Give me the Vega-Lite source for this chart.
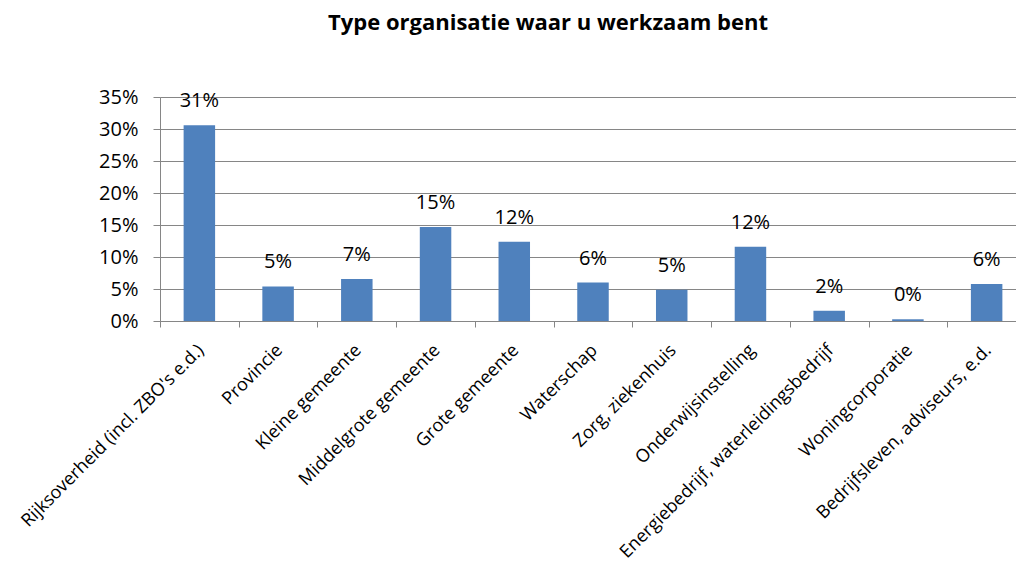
{
  "$schema": "https://vega.github.io/schema/vega-lite/v6.json",
  "autosize": {"type": "none"},
  "padding": {"left": 160, "top": 97, "right": 0, "bottom": 242},
  "width": 856,
  "height": 224,
  "background": "white",
  "title": {
    "text": "Type organisatie waar u werkzaam bent",
    "font": "Open Sans",
    "fontSize": 22,
    "fontWeight": "bold",
    "color": "black",
    "anchor": "middle",
    "dx": -40,
    "offset": 52
  },
  "data": {
    "values": [
      {"type": "Rijksoverheid (incl. ZBO's e.d.)", "share": 0.306},
      {"type": "Provincie", "share": 0.054},
      {"type": "Kleine gemeente", "share": 0.0656},
      {"type": "Middelgrote gemeente", "share": 0.147},
      {"type": "Grote gemeente", "share": 0.124},
      {"type": "Waterschap", "share": 0.06},
      {"type": "Zorg, ziekenhuis", "share": 0.049},
      {"type": "Onderwijsinstelling", "share": 0.116},
      {"type": "Energiebedrijf, waterleidingsbedrijf", "share": 0.016},
      {"type": "Woningcorporatie", "share": 0.0027},
      {"type": "Bedrijfsleven, adviseurs, e.d.", "share": 0.058}
    ]
  },
  "encoding": {
    "x": {
      "field": "type",
      "type": "nominal",
      "sort": null,
      "title": null,
      "scale": {"range": [0, 866], "paddingInner": 0, "paddingOuter": 0},
      "axis": {
        "tickBand": "extent",
        "labelAngle": -45,
        "labelFont": "Open Sans",
        "labelFontSize": 18,
        "labelColor": "black",
        "labelLimit": 500,
        "labelOffset": -5,
        "domainColor": "#868686",
        "tickColor": "#868686",
        "tickSize": 6,
        "labelPadding": 14,
        "grid": false
      }
    },
    "y": {
      "field": "share",
      "type": "quantitative",
      "title": null,
      "scale": {"domain": [0, 0.35], "nice": false},
      "axis": {
        "values": [0, 0.05, 0.1, 0.15, 0.2, 0.25, 0.3, 0.35],
        "format": ".0%",
        "labelFont": "Open Sans",
        "labelFontSize": 20,
        "labelColor": "black",
        "labelPadding": 15,
        "domainColor": "#868686",
        "tickColor": "#868686",
        "tickSize": 7,
        "gridColor": "#868686",
        "gridOpacity": 1,
        "grid": true
      }
    }
  },
  "layer": [
    {
      "mark": {"type": "bar", "color": "#4F81BD", "width": {"band": 0.4}}
    },
    {
      "mark": {"type": "text", "font": "Open Sans", "fontSize": 20, "color": "black", "baseline": "alphabetic", "dy": -18},
      "encoding": {"text": {"field": "share", "type": "quantitative", "format": ".0%"}}
    }
  ]
}
